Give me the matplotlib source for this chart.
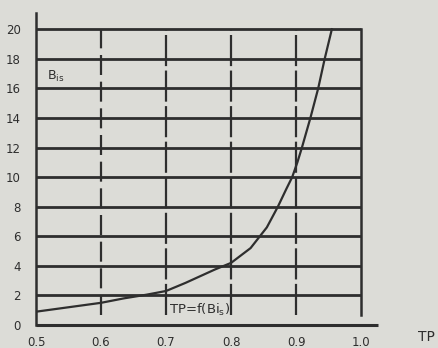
import matplotlib
matplotlib.use("Agg")
import matplotlib.pyplot as plt

# Data
tp = [0.50, 0.55, 0.60, 0.635, 0.67, 0.70, 0.73, 0.775, 0.80, 0.83, 0.855, 0.872, 0.885,
      0.894, 0.902, 0.909, 0.922, 0.934, 0.944, 0.955]
bis = [0.9, 1.2, 1.5, 1.8, 2.05, 2.3, 2.85, 3.75, 4.2, 5.2, 6.6, 8.0, 9.2,
       10.0, 11.0, 12.0, 14.0, 16.0, 18.0, 20.0]
x_ticks = [0.5, 0.6, 0.7, 0.8, 0.9, 1.0]
x_labels = ["0.5", "0.6", "0.7", "0.8", "0.9", "1.0"]
y_ticks = [0, 2, 4, 6, 8, 10, 12, 14, 16, 18, 20]
y_labels = ["0", "2", "4", "6", "8", "10", "12", "14", "16", "18", "20"]

bg = "#dcdcd7"
ink = "#2e2e2e"

fig = plt.figure(figsize=(4.38, 3.48), dpi=100, facecolor=bg)
ax = fig.add_axes([36/438, 23/348, (378-36)/438, (325-13)/348])
ax.set_facecolor(bg)
ax.set_xlim(0.5, 1.026)
ax.set_ylim(0, 21.1)
for s in ax.spines.values():
    s.set_visible(False)

# axes lines
ax.plot([0.5, 1.026], [0, 0], color=ink, lw=2.2, clip_on=False, solid_capstyle="butt")
ax.plot([0.5, 0.5], [0, 21.1], color=ink, lw=1.8, clip_on=False)

# horizontal grid
for y in y_ticks[1:]:
    ax.plot([0.5, 1.0], [y, y], color=ink, lw=2.0, solid_capstyle="butt")
# vertical grid
for x in x_ticks[1:-1]:
    ls = (0, (9, 3)) if x in (0.6,) else (0, (14, 2))
    ax.plot([x, x], [0.7, 20], color=ink, lw=1.6, ls=ls)
ax.plot([1.0, 1.0], [0.7, 20], color=ink, lw=1.8)

# curve
ax.plot(tp, bis, color=ink, lw=1.6, solid_joinstyle="round")

ax.set_xticks(x_ticks)
ax.set_xticklabels(x_labels)
ax.set_yticks(y_ticks)
ax.set_yticklabels(y_labels)
ax.tick_params(axis="both", length=0, colors=ink, labelsize=8.5)
ax.tick_params(axis="x", pad=8)
ax.tick_params(axis="y", pad=11)

ax.text(0.517, 16.8, r"B$_{\mathrm{is}}$", color=ink, fontsize=9, va="center", ha="left")
ax.text(0.705, 1.0, r"TP=f(Bi$_{\mathrm{s}}$)", color=ink, fontsize=9.5, va="center", ha="left")
fig.text(426/438, 1 - 337/348, "TP", color=ink, fontsize=10, ha="center", va="center")

fig.savefig("out.png", dpi=100, facecolor=bg)
